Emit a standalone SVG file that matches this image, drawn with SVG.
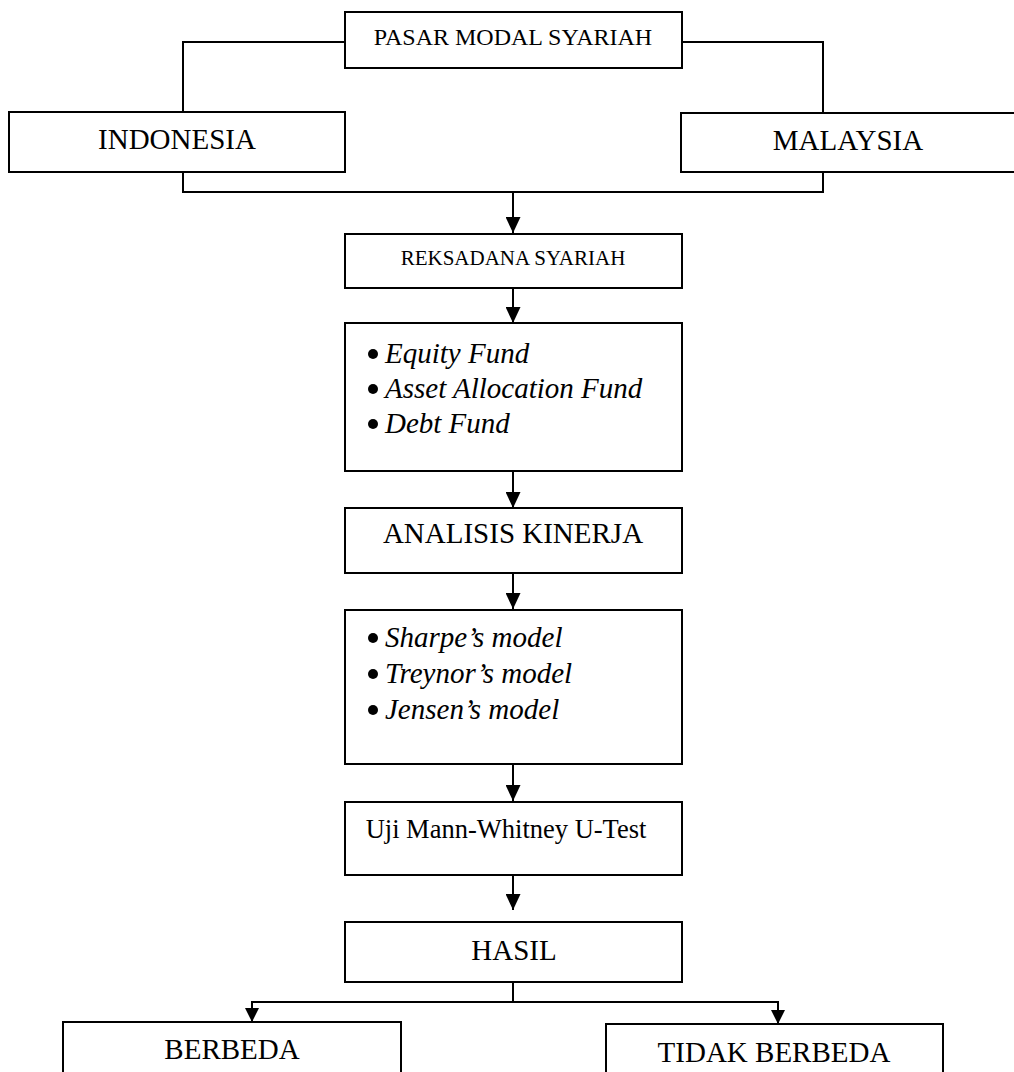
<svg xmlns="http://www.w3.org/2000/svg" width="1014" height="1072" viewBox="0 0 1014 1072">
<defs>
<marker id="arr" viewBox="0 0 16 15" refX="16" refY="7.5" markerWidth="16" markerHeight="15" markerUnits="userSpaceOnUse" orient="auto"><path d="M0,0 L16,7.5 L0,15 z" fill="#000"/></marker>
<marker id="arrs" viewBox="0 0 14 14" refX="14" refY="7" markerWidth="14" markerHeight="14" markerUnits="userSpaceOnUse" orient="auto"><path d="M0,0 L14,7 L0,14 z" fill="#000"/></marker>
</defs>
<style>
.box{fill:#fff;stroke:#000;stroke-width:2}
.t{font-family:"Liberation Serif","Times New Roman",serif;fill:#000;text-anchor:middle}
.i{font-family:"Liberation Serif","Times New Roman",serif;font-style:italic;font-size:29px;fill:#000}
.c{fill:none;stroke:#000;stroke-width:2}
.a{fill:none;stroke:#000;stroke-width:2;marker-end:url(#arr)}
.as{fill:none;stroke:#000;stroke-width:2;marker-end:url(#arrs)}
</style>
<rect width="1014" height="1072" fill="#fff"/>
<g id="connectors">
<polyline class="c" points="345,42 183,42 183,112"/>
<polyline class="c" points="682,42 823,42 823,113"/>
<polyline class="c" points="183,172 183,192 823,192 823,172"/>
<line class="a" x1="513" y1="192" x2="513" y2="233"/>
<line class="a" x1="513" y1="288" x2="513" y2="323"/>
<line class="a" x1="513" y1="471" x2="513" y2="508"/>
<line class="a" x1="513" y1="573" x2="513" y2="609"/>
<line class="a" x1="513" y1="764" x2="513" y2="801"/>
<line class="a" x1="513" y1="875" x2="513" y2="910"/>
<line class="c" x1="513" y1="982" x2="513" y2="1002"/>
<polyline class="as" points="513,1002 252,1002 252,1022"/>
<polyline class="as" points="513,1002 778,1002 778,1024"/>
</g>
<g id="pasar"><rect class="box" x="345" y="12" width="337" height="56"/><text class="t" x="513" y="45" font-size="24">PASAR MODAL SYARIAH</text></g>
<g id="indonesia"><rect class="box" x="9" y="112" width="336" height="60"/><text class="t" x="177" y="149" font-size="29">INDONESIA</text></g>
<g id="malaysia"><rect class="box" x="681" y="113" width="340" height="59"/><text class="t" x="848" y="150" font-size="29">MALAYSIA</text></g>
<g id="reksadana"><rect class="box" x="345" y="234" width="337" height="54"/><text class="t" x="513" y="265" font-size="21">REKSADANA SYARIAH</text></g>
<g id="jenis">
<rect class="box" x="345" y="323" width="337" height="148"/>
<circle cx="373" cy="354" r="5"/><text class="i" x="385" y="363">Equity Fund</text>
<circle cx="373" cy="389" r="5"/><text class="i" x="385" y="398">Asset Allocation Fund</text>
<circle cx="373" cy="424" r="5"/><text class="i" x="385" y="433">Debt Fund</text>
</g>
<g id="analisis"><rect class="box" x="345" y="508" width="337" height="65"/><text class="t" x="513" y="543" font-size="29">ANALISIS KINERJA</text></g>
<g id="model">
<rect class="box" x="345" y="610" width="337" height="154"/>
<circle cx="373" cy="638" r="5"/><text class="i" x="385" y="647">Sharpe’s model</text>
<circle cx="373" cy="674" r="5"/><text class="i" x="385" y="683">Treynor’s model</text>
<circle cx="373" cy="710" r="5"/><text class="i" x="385" y="719">Jensen’s model</text>
</g>
<g id="uji"><rect class="box" x="345" y="802" width="337" height="73"/><text class="t" x="506" y="838" font-size="26.5">Uji Mann-Whitney U-Test</text></g>
<g id="hasil"><rect class="box" x="345" y="922" width="337" height="60"/><text class="t" x="514" y="960" font-size="29">HASIL</text></g>
<g id="berbeda"><rect class="box" x="63" y="1022" width="338" height="70"/><text class="t" x="232" y="1059" font-size="29">BERBEDA</text></g>
<g id="tidak"><rect class="box" x="606" y="1024" width="337" height="70"/><text class="t" x="774" y="1062" font-size="29">TIDAK BERBEDA</text></g>
</svg>
